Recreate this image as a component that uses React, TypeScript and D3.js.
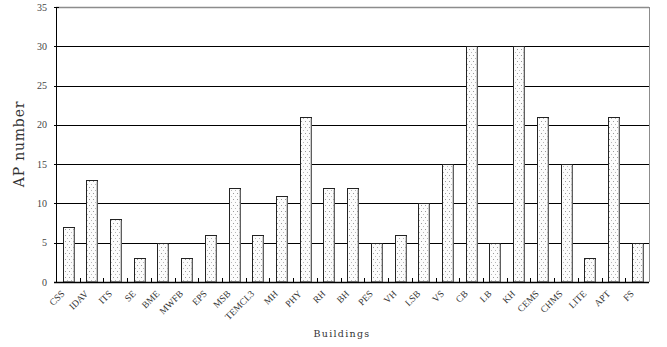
import React from 'react';
import * as d3 from 'd3';

const buildings = ['CSS', 'IDAV', 'ITS', 'SE', 'BME', 'MWFB', 'EPS', 'MSB', 'TEMCL3', 'MH', 'PHY', 'RH', 'BH',
  'PES', 'VH', 'LSB', 'VS', 'CB', 'LB', 'KH', 'CEMS', 'CHMS', 'LITE', 'APT', 'FS'];
const apCounts = [7, 13, 8, 3, 5, 3, 6, 12, 6, 11, 21, 12, 12, 5, 6, 10, 15, 30, 5, 30, 21, 15, 3, 21, 5];
const yTicks = [0, 5, 10, 15, 20, 25, 30, 35];

export default function App() {
  const width = 667;
  const height = 347;
  const margin = { top: 7, right: 18, bottom: 65, left: 56 };
  const x0 = margin.left;
  const x1 = width - margin.right;
  const y0 = height - margin.bottom;

  const x = d3.scaleBand<string>().domain(buildings).range([x0, x1]).paddingInner(0.55).paddingOuter(0.275);
  const xb = d3.scaleBand<string>().domain(buildings).range([x0, x1]);
  const y = d3.scaleLinear().domain([0, 35]).range([y0, margin.top]);

  const labelFont = '"Liberation Serif", serif';

  return (
    <svg width={width} height={height} style={{ position: 'absolute', left: 0, top: 0, background: '#fff' }}>
      <defs>
        <pattern id="dots" width={4} height={6} patternUnits="userSpaceOnUse">
          <rect width={4} height={6} fill="#fcfcfc" />
          <rect x={1} y={1} width={1} height={1} fill="#9a9a9a" />
          <rect x={3} y={4} width={1} height={1} fill="#b8b8b8" />
        </pattern>
      </defs>

      {/* gridlines */}
      {yTicks.filter(t => t > 0 && t < 35).map(t => (
        <line key={t} x1={x0} x2={x1} y1={Math.round(y(t)) + 0.5} y2={Math.round(y(t)) + 0.5} stroke="#000" strokeWidth={1} />
      ))}
      {/* top and right border */}
      <line x1={x0} x2={x1} y1={Math.round(y(35)) + 0.5} y2={Math.round(y(35)) + 0.5} stroke="#8c8c8c" strokeWidth={1.5} />
      <line x1={x1 + 0.5} x2={x1 + 0.5} y1={y(35)} y2={y0} stroke="#8c8c8c" strokeWidth={1} />

      {/* bars */}
      {buildings.map((b, i) => {
        const bx = Math.round(x(b)!) + 0.5;
        const bw = Math.round(x.bandwidth());
        const by = Math.round(y(apCounts[i])) + 0.5;
        return (
          <g key={b}>
            <rect x={bx} y={by} width={bw} height={y0 - by} fill="url(#dots)" stroke="#222" strokeWidth={1} />
            <line x1={bx + bw - 0.5} x2={bx + bw - 0.5} y1={by + 1} y2={y0} stroke="#9a9a9a" strokeWidth={1} />
          </g>
        );
      })}

      {/* axes */}
      <line x1={x0 + 0.5} x2={x0 + 0.5} y1={y(35)} y2={y0} stroke="#000" strokeWidth={1} />
      <line x1={x0 - 2} x2={x1} y1={y0 + 0.5} y2={y0 + 0.5} stroke="#000" strokeWidth={1.5} />
      {buildings.slice(1).map(b => (
        <line key={b} x1={Math.round(xb(b)!) + 0.5} x2={Math.round(xb(b)!) + 0.5} y1={y0} y2={y0 - 4} stroke="#000" strokeWidth={1} />
      ))}
      {yTicks.map(t => (
        <g key={t}>
          <line x1={x0 - 2} x2={x0 + 3} y1={Math.round(y(t)) + 0.5} y2={Math.round(y(t)) + 0.5} stroke="#000" strokeWidth={1} />
          <text x={x0 - 9} y={y(t)} dy="0.35em" textAnchor="end" fontFamily={labelFont} fontSize={10} fill="#444">{t}</text>
        </g>
      ))}

      {/* x tick labels */}
      {buildings.map(b => {
        const cx = xb(b)! + xb.bandwidth() / 2 - 5;
        const cy = y0 + 10;
        return (
          <text key={b} x={cx} y={cy} dy="0.35em" textAnchor="end" transform={`rotate(-45,${cx},${cy})`}
            fontFamily={labelFont} fontSize={9.5} fill="#333">{b}</text>
        );
      })}

      {/* titles */}
      <text transform={`translate(24,${144}) rotate(-90)`} textAnchor="middle" fontFamily='"DejaVu Serif", serif' fontSize={14} letterSpacing={0.8} fill="#333">AP number</text>
      <text x={342} y={337} textAnchor="middle" fontFamily='"DejaVu Serif", serif' fontSize={9.5} letterSpacing={1.3} fill="#333">Buildings</text>
    </svg>
  );
}
